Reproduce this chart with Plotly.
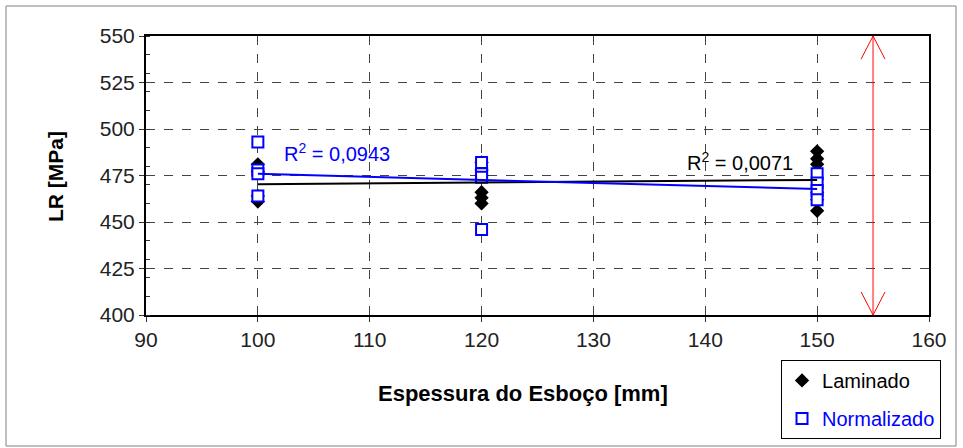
import numpy as np
import plotly.graph_objects as go

# ---- data ----
lam_x = [100, 100, 100, 100, 120, 120, 120, 120, 120, 120, 150, 150, 150, 150, 150, 150]
lam_y = [481, 477, 464, 461, 482, 478, 475, 466, 463, 460, 488, 484, 481, 466, 462, 456]
nor_x = [100, 100, 100, 100, 120, 120, 120, 120, 150, 150, 150, 150]
nor_y = [493, 478, 476, 464, 482, 476, 474, 446, 476, 471, 467, 462]
r2_lam = "R<sup>2</sup> = 0,0071"
r2_nor = "R<sup>2</sup> = 0,0943"
x_ticks = [90, 100, 110, 120, 130, 140, 150, 160]
y_ticks = [400, 425, 450, 475, 500, 525, 550]
arrow_x = 155
arrow_lo, arrow_hi = 400, 550

FONT = "Arial, Liberation Sans, sans-serif"
BLUE = "#0000FF"

fig = go.Figure()

fig.add_trace(go.Scatter(
    x=lam_x, y=lam_y, mode="markers", name="Laminado", legendgroup="a",
    marker=dict(symbol="diamond", size=11, color="black"),
))
fig.add_trace(go.Scatter(
    x=nor_x, y=nor_y, mode="markers", legendgroup="b",
    name="<span style='color:#0000FF'>Normalizado</span>",
    marker=dict(symbol="square", size=11, color="white", line=dict(color=BLUE, width=2)),
))

# linear trendlines
def trend(xs, ys):
    p = np.polyfit(xs, ys, 1)
    xx = np.array([min(xs), max(xs)], dtype=float)
    return xx, np.polyval(p, xx)

tx, ty = trend(lam_x, lam_y)
fig.add_trace(go.Scatter(x=tx, y=ty, mode="lines", line=dict(color="black", width=2),
                         showlegend=False, hoverinfo="skip"))
tx, ty = trend(nor_x, nor_y)
fig.add_trace(go.Scatter(x=tx, y=ty, mode="lines", line=dict(color=BLUE, width=2),
                         showlegend=False, hoverinfo="skip"))

# red double arrow
fig.add_trace(go.Scatter(x=[arrow_x, arrow_x], y=[arrow_lo, arrow_hi], mode="lines",
                         line=dict(color="rgba(255,0,0,0.5)", width=2),
                         showlegend=False, hoverinfo="skip"))
hw, hh = 1.07, 12.4
fig.add_trace(go.Scatter(
    x=[arrow_x - hw, arrow_x, arrow_x + hw, None, arrow_x - hw, arrow_x, arrow_x + hw],
    y=[arrow_hi - hh, arrow_hi, arrow_hi - hh, None, arrow_lo + hh, arrow_lo, arrow_lo + hh],
    mode="lines", line=dict(color="#FF0000", width=1),
    showlegend=False, hoverinfo="skip"))

axis_common = dict(
    showgrid=True, gridcolor="#444444", griddash="dash", gridwidth=1,
    showline=True, linecolor="black", linewidth=2, mirror=True,
    ticks="outside", ticklen=5, tickcolor="#333333",
    tickfont=dict(family=FONT, size=21, color="#222222"),
    zeroline=False,
)

fig.update_xaxes(range=[90, 160], tickvals=x_ticks, **axis_common)
fig.update_yaxes(range=[400, 550], tickvals=y_ticks,
                 minor=dict(dtick=10, tick0=400, ticks="inside", ticklen=4, tickcolor="#333333",
                            showgrid=False),
                 **axis_common)

fig.update_layout(
    width=963, height=448,
    margin=dict(l=146, r=34, t=36, b=133, autoexpand=False),
    paper_bgcolor="white", plot_bgcolor="white",
    font=dict(family=FONT, color="black"),
    showlegend=True,
    legend=dict(x=0.811, y=-0.161, xanchor="left", yanchor="top",
                bordercolor="black", borderwidth=1, bgcolor="white",
                font=dict(family=FONT, size=20, color="black"),
                tracegroupgap=9, itemwidth=30),
    annotations=[
        dict(text="<b>Espessura do Esboço [mm]</b>", x=0.4815, y=-0.2796, xref="paper", yref="paper",
             showarrow=False, font=dict(family=FONT, size=22, color="black"),
             xanchor="center", yanchor="middle"),
        dict(text="<b>LR [MPa]</b>", x=-0.1162, y=0.4946, xref="paper", yref="paper",
             showarrow=False, textangle=-90, font=dict(family=FONT, size=21, color="black"),
             xanchor="center", yanchor="middle"),
        dict(text=r2_nor, x=102.15, y=487.6, xref="x", yref="y", showarrow=False,
             xanchor="left", yanchor="middle", font=dict(family=FONT, size=20, color=BLUE)),
        dict(text=r2_lam, x=138.17, y=482.3, xref="x", yref="y", showarrow=False,
             xanchor="left", yanchor="middle", font=dict(family=FONT, size=20, color="black")),
    ],
    shapes=[
        dict(type="rect", xref="paper", yref="paper", x0=-0.1788, x1=1.0345, y0=-0.4695, y1=1.1075,
             line=dict(color="#808080", width=1), fillcolor="rgba(0,0,0,0)", layer="below"),
    ],
)

fig.write_html("out.html")
